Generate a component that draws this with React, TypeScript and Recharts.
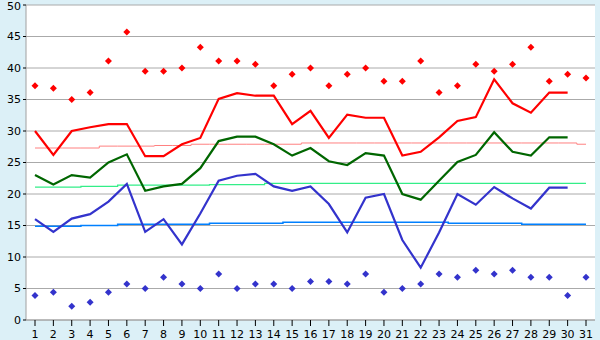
import { ComposedChart, Line, Scatter, XAxis, YAxis, CartesianGrid } from "recharts";

const days = ["1", "2", "3", "4", "5", "6", "7", "8", "9", "10", "11", "12", "13", "14", "15", "16", "17", "18", "19", "20", "21", "22", "23", "24", "25", "26", "27", "28", "29", "30", "31"];

// extremes (diamonds)
const highs = [37.2, 36.8, 35.0, 36.1, 41.1, 45.7, 39.5, 39.5, 40.0, 43.3, 41.1, 41.1, 40.6, 37.2, 39.0, 40.0, 37.2, 39.0, 40.0, 37.9, 37.9, 41.1, 36.1, 37.2, 40.6, 39.5, 40.6, 43.3, 37.9, 39.0, 38.4];
const lows = [3.9, 4.4, 2.2, 2.8, 4.4, 5.7, 5.0, 6.8, 5.7, 5.0, 7.3, 5.0, 5.7, 5.7, 5.0, 6.1, 6.1, 5.7, 7.3, 4.4, 5.0, 5.7, 7.3, 6.8, 7.9, 7.3, 7.9, 6.8, 6.8, 3.9, 6.8];

// daily lines
const maxLine = [30.0, 26.2, 30.0, 30.6, 31.1, 31.1, 26.0, 26.0, 27.9, 28.9, 35.1, 36.0, 35.6, 35.6, 31.1, 33.2, 28.9, 32.6, 32.1, 32.1, 26.1, 26.7, 29.0, 31.6, 32.2, 38.2, 34.4, 32.9, 36.1, 36.1, null];
const meanLine = [23.0, 21.5, 23.0, 22.6, 25.0, 26.3, 20.5, 21.2, 21.6, 24.1, 28.4, 29.1, 29.1, 27.9, 26.1, 27.3, 25.2, 24.6, 26.5, 26.1, 20.0, 19.1, 22.1, 25.1, 26.2, 29.8, 26.7, 26.1, 29.0, 29.0, null];
const minLine = [16.0, 14.0, 16.1, 16.8, 18.8, 21.6, 14.0, 16.0, 12.0, 16.9, 22.1, 22.9, 23.2, 21.2, 20.5, 21.2, 18.4, 13.9, 19.4, 20.0, 12.7, 8.3, 13.9, 20.0, 18.3, 21.1, 19.3, 17.7, 21.0, 21.0, null];

// normals (thin step lines)
const normMax = [27.3, 27.3, 27.3, 27.3, 27.6, 27.6, 27.6, 27.7, 27.7, 27.9, 27.9, 27.9, 27.9, 27.9, 27.9, 28.1, 28.1, 28.1, 28.1, 28.1, 28.1, 28.1, 28.1, 28.1, 28.1, 28.1, 28.1, 28.1, 28.1, 28.1, 27.9];
const normMean = [21.1, 21.1, 21.1, 21.2, 21.2, 21.4, 21.4, 21.4, 21.4, 21.4, 21.5, 21.5, 21.5, 21.7, 21.7, 21.7, 21.7, 21.7, 21.7, 21.7, 21.7, 21.7, 21.7, 21.7, 21.7, 21.7, 21.7, 21.7, 21.7, 21.7, 21.7];
const normMin = [14.9, 14.9, 14.9, 15.0, 15.0, 15.2, 15.2, 15.2, 15.2, 15.2, 15.35, 15.35, 15.35, 15.35, 15.5, 15.5, 15.5, 15.5, 15.5, 15.5, 15.5, 15.5, 15.5, 15.35, 15.35, 15.35, 15.35, 15.2, 15.2, 15.2, 15.2];

const yTicks = [0, 5, 10, 15, 20, 25, 30, 35, 40, 45, 50];

const data = days.map((d, i) => ({
  day: d,
  high: highs[i],
  low: lows[i],
  max: maxLine[i],
  mean: meanLine[i],
  min: minLine[i],
  nMax: normMax[i],
  nMean: normMean[i],
  nMin: normMin[i],
}));

const Diamond = (props: any) => {
  const { cx, cy, fill } = props;
  if (cx == null || cy == null) return null;
  const r = 3.5;
  return <polygon points={`${cx},${cy - r} ${cx + r},${cy} ${cx},${cy + r} ${cx - r},${cy}`} fill={fill} />;
};

const tickStyle = { fill: "#000", fontSize: 11, fontFamily: "DejaVu Sans" };
const axisColor = "#a0a0a0";

export default function App() {
  return (
    <div style={{ position: "absolute", left: 0, top: 0, width: 600, height: 340, backgroundColor: "#dcf0f7" }}>
      <ComposedChart width={600} height={340} data={data} margin={{ top: 5, right: 5, left: 0, bottom: 0 }}>
        <CartesianGrid vertical={false} stroke="#aaaaaa" fill="#ffffff" fillOpacity={1} />
        <XAxis
          dataKey="day"
          scale="point"
          padding={{ left: 9, right: 9 }}
          height={20}
          tick={tickStyle}
          tickSize={6}
          tickMargin={4}
          tickLine={{ stroke: "#000" }}
          axisLine={{ stroke: axisColor }}
          interval={0}
        />
        <YAxis
          domain={[0, 50]}
          ticks={yTicks}
          width={26}
          tick={tickStyle}
          tickSize={3}
          tickMargin={2}
          tickLine={{ stroke: "#000" }}
          axisLine={{ stroke: axisColor }}
        />
        <YAxis yAxisId="right" orientation="right" width={0} tick={false} tickLine={false} axisLine={{ stroke: axisColor }} />

        <Line dataKey="nMax" type="step" stroke="#ff8080" strokeWidth={1} dot={false} isAnimationActive={false} />
        <Line dataKey="nMean" type="step" stroke="#33ee88" strokeWidth={1.2} dot={false} isAnimationActive={false} />
        <Line dataKey="nMin" type="step" stroke="#0080ff" strokeWidth={1.5} dot={false} isAnimationActive={false} />

        <Scatter dataKey="high" fill="#ff0000" shape={<Diamond />} isAnimationActive={false} />
        <Scatter dataKey="low" fill="#3333cc" shape={<Diamond />} isAnimationActive={false} />

        <Line dataKey="max" type="linear" stroke="#ff0000" strokeWidth={2.2} dot={false} isAnimationActive={false} />
        <Line dataKey="mean" type="linear" stroke="#006600" strokeWidth={2.2} dot={false} isAnimationActive={false} />
        <Line dataKey="min" type="linear" stroke="#3333cc" strokeWidth={2.2} dot={false} isAnimationActive={false} />
      </ComposedChart>
    </div>
  );
}
